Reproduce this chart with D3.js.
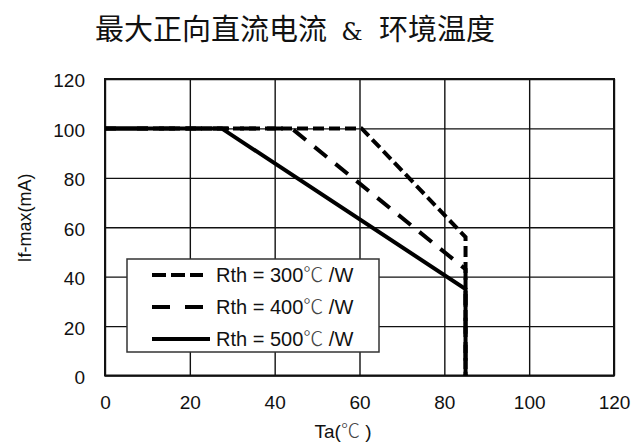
<!DOCTYPE html>
<html>
<head>
<meta charset="utf-8">
<script src="https://cdn.jsdelivr.net/npm/d3@7"></script>
<style>
  body { margin: 0; background: #fff; }
  svg { display: block; }
</style>
</head>
<body>
<div id="chart-area"></div>
<script>
// chart data
var xTicks = [0, 20, 40, 60, 80, 100, 120];
var yTicks = [0, 20, 40, 60, 80, 100, 120];
var seriesRth = ["300", "400", "500"];
var ta300 = [0, 60.5, 85, 85];
var if300 = [100, 100, 56, 0];
var ta400 = [0, 44, 85, 85];
var if400 = [100, 100, 43, 0];
var ta500 = [0, 27.5, 85, 85];
var if500 = [100, 100, 35, 0];

var W = 634, H = 443;
var margin = {top: 79, left: 105};
var width = 509, height = 296.5;
var latin = "Liberation Sans, Arial, sans-serif";
var cjk = "Noto Sans CJK SC";

var svg = d3.select("#chart-area").append("svg")
    .attr("width", W)
    .attr("height", H);

// title in three pieces so the gaps round "&" match
var title = svg.append("g")
    .attr("font-family", cjk)
    .attr("font-size", "29px")
    .style("fill", "#111");
title.append("text").attr("x", 327).attr("y", 40).attr("text-anchor", "end").text("最大正向直流电流");
title.append("text").attr("x", 352).attr("y", 40).attr("text-anchor", "middle")
    .attr("font-family", "DejaVu Serif").attr("font-size", "24px").text("&");
title.append("text").attr("x", 379).attr("y", 40).text("环境温度");

var g = svg.append("g")
    .attr("transform", "translate(" + margin.left + "," + margin.top + ")");

var x = d3.scaleLinear().domain([0, 120]).range([0, width]);
var y = d3.scaleLinear().domain([0, 120]).range([height, 0]);

var bottomAxis = d3.axisBottom(x).tickValues(xTicks).tickSize(-height).tickPadding(20);
var leftAxis = d3.axisLeft(y).tickValues(yTicks).tickSize(-width).tickPadding(20);

var xg = g.append("g")
    .attr("transform", "translate(0," + height + ")")
    .call(bottomAxis);
var yg = g.append("g").call(leftAxis);

[xg, yg].forEach(function(a) {
    a.select(".domain").remove();
    a.selectAll(".tick line").attr("stroke", "#111").attr("stroke-width", 1.4);
    a.selectAll(".tick text")
        .attr("font-family", latin)
        .attr("font-size", "19px")
        .attr("fill", "#111");
});
yg.selectAll(".tick text").attr("dy", "0.42em");

g.append("rect")
    .attr("width", width)
    .attr("height", height)
    .attr("fill", "none")
    .attr("stroke", "#111")
    .attr("stroke-width", 2);

// axis labels
svg.append("text")
    .attr("transform", "translate(31,218) rotate(-90)")
    .attr("text-anchor", "middle")
    .attr("font-family", latin)
    .attr("font-size", "18px")
    .style("fill", "#111")
    .text("If-max(mA)");

var xLabel = svg.append("text")
    .attr("x", 343)
    .attr("y", 438)
    .attr("text-anchor", "middle")
    .attr("font-family", latin)
    .attr("font-size", "19px")
    .style("fill", "#111");
xLabel.append("tspan").text("Ta(");
xLabel.append("tspan").attr("font-family", cjk).attr("font-weight", 300).style("fill", "#444").text("\u2103");
xLabel.append("tspan").text(" )");

// curves
var series = [
    {xs: ta500, ys: if500, dash: null},
    {xs: ta400, ys: if400, dash: "16,11"},
    {xs: ta300, ys: if300, dash: "11,5"}
];
var line = d3.line()
    .x(function(d) { return x(d[0]); })
    .y(function(d) { return y(d[1]); });

series.forEach(function(s) {
    var pts = s.xs.map(function(v, i) { return [v, s.ys[i]]; });
    g.append("path")
        .datum(pts)
        .attr("d", line)
        .attr("fill", "none")
        .attr("stroke", "#000")
        .attr("stroke-width", 4)
        .attr("stroke-dasharray", s.dash);
});

// legend
var legend = svg.append("g").attr("transform", "translate(127,259)");
legend.append("rect")
    .attr("width", 252)
    .attr("height", 93)
    .attr("fill", "#fff")
    .attr("stroke", "#333")
    .attr("stroke-width", 1.5);

var legendDash = ["14,5", "18,15", null];
var legendEnd = [76, 76, 83];
seriesRth.forEach(function(r, i) {
    var row = legend.append("g")
        .attr("transform", "translate(0," + (16 + i * 32) + ")");
    row.append("line")
        .attr("x1", 25)
        .attr("x2", legendEnd[i])
        .attr("stroke", "#000")
        .attr("stroke-width", 4)
        .attr("stroke-dasharray", legendDash[i]);
    var t = row.append("text")
        .attr("x", 89)
        .attr("y", 7)
        .attr("font-family", latin)
        .attr("font-size", "20px")
        .style("fill", "#111");
    t.append("tspan").text("Rth = " + r);
    t.append("tspan").attr("font-family", cjk).attr("font-weight", 300).style("fill", "#444").text("\u2103");
    t.append("tspan").text(" /W");
});
</script>
</body>
</html>
